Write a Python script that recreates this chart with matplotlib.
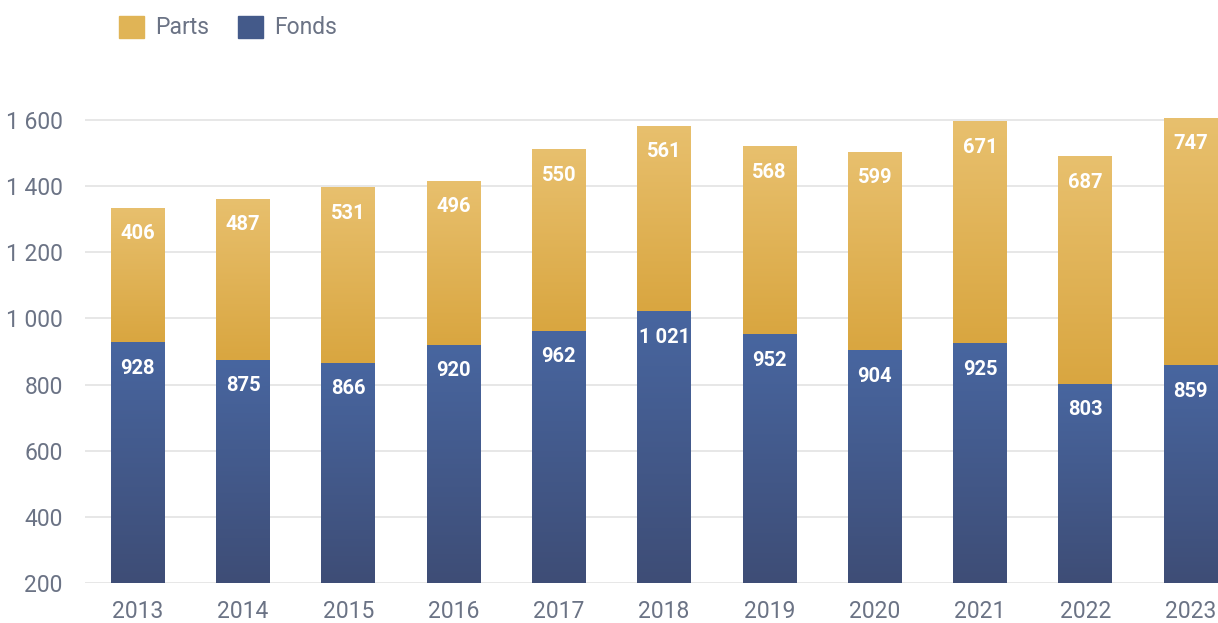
import numpy as np
import matplotlib
matplotlib.use("Agg")
import matplotlib.pyplot as plt
from matplotlib.colors import LinearSegmentedColormap
from matplotlib.patches import Rectangle

plt.rcParams['font.family'] = ['Roboto', 'DejaVu Sans']

years = ['2013', '2014', '2015', '2016', '2017', '2018', '2019', '2020', '2021', '2022', '2023']
fonds = [928, 875, 866, 920, 962, 1021, 952, 904, 925, 803, 859]
parts = [406, 487, 531, 496, 550, 561, 568, 599, 671, 687, 747]

grey = '#6b7385'
blue_cm = LinearSegmentedColormap.from_list('b', ['#3e4d76', '#4866a0'])
gold_cm = LinearSegmentedColormap.from_list('g', ['#d9a640', '#e8c06e'])

def fmt(v):
    return '{:,}'.format(int(v)).replace(',', ' ')

fig = plt.figure(figsize=(12.18, 6.23), dpi=100)
ax = fig.add_axes([85/1218, 40/623, 1 - 85/1218, 520/623])

ymin, ymax = 200, 1772
grad = np.linspace(0, 1, 256).reshape(-1, 1)
w = 0.51
x = np.arange(len(years))

b1 = ax.bar(x, fonds, width=w, color='none', zorder=2)
b2 = ax.bar(x, parts, width=w, bottom=fonds, color='none', zorder=2)

# vertical gradient fill, clipped to each bar
for bars, cm, bottoms in ((b1, blue_cm, [ymin]*len(x)), (b2, gold_cm, fonds)):
    for r, lo in zip(bars, bottoms):
        x0, y1 = r.get_x(), r.get_y() + r.get_height()
        im = ax.imshow(grad, cmap=cm, origin='lower', aspect='auto',
                       extent=[x0, x0 + r.get_width(), lo, y1], zorder=2)
        im.set_clip_path(r)

# value labels just inside the top of each segment
for i in x:
    ax.annotate(fmt(fonds[i]), (i, fonds[i]), xytext=(0, -26), textcoords='offset pixels',
                ha='center', va='center', color='white', fontsize=14.5, fontweight='bold', zorder=3)
    ax.annotate(fmt(parts[i]), (i, fonds[i] + parts[i]), xytext=(0, -26), textcoords='offset pixels',
                ha='center', va='center', color='white', fontsize=14.5, fontweight='bold', zorder=3)

ax.set_xlim(-0.5, 10.26)
ax.set_ylim(ymin, ymax)
ax.set_yticks(range(200, 1601, 200))
ax.set_yticklabels([fmt(v) for v in range(200, 1601, 200)])
ax.set_xticks(x)
ax.set_xticklabels(years)
ax.grid(axis='y', color='#e3e3e3', linewidth=1.2, zorder=0)
ax.set_axisbelow(True)
for s in ax.spines.values():
    s.set_visible(False)
ax.tick_params(length=0, labelsize=16.5, colors=grey, pad=12)
ax.tick_params(axis='y', pad=16)

# legend
handles = [Rectangle((0, 0), 1, 1, color='#e0b456'), Rectangle((0, 0), 1, 1, color='#445a8a')]
fig.legend(handles, ['Parts', 'Fonds'], loc='upper left', bbox_to_anchor=(98/1218, 1.008),
           ncol=2, frameon=False, fontsize=16.5, labelcolor=grey, handlelength=1.1,
           handleheight=1.1, handletextpad=0.5, columnspacing=1.25)

fig.savefig('out.png', dpi=100)
